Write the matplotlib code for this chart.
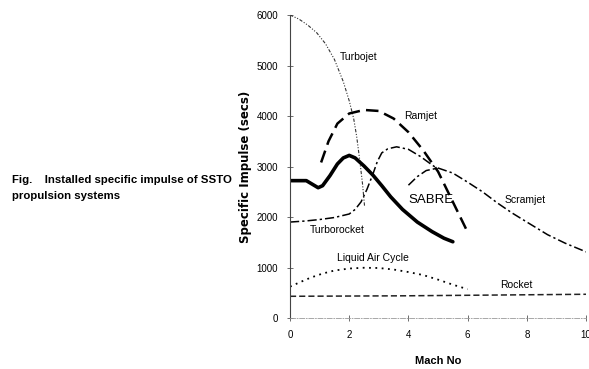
import matplotlib
matplotlib.use("Agg")
import matplotlib.pyplot as plt

# ---- data (Mach number vs specific impulse, secs) ----
turbojet_x = [0, 0.3, 0.6, 0.9, 1.2, 1.5, 1.8, 2.0, 2.15, 2.25, 2.35, 2.45, 2.52]
turbojet_y = [6000, 5920, 5800, 5650, 5430, 5120, 4680, 4300, 3950, 3600, 3150, 2650, 2200]

ramjet_x = [1.05, 1.3, 1.6, 2.0, 2.5, 3.0, 3.5, 4.0, 4.5, 5.0, 5.5, 6.0]
ramjet_y = [3080, 3500, 3850, 4050, 4120, 4100, 3950, 3680, 3320, 2900, 2300, 1700]

turborocket_x = [0, 0.5, 1.0, 1.5, 2.0, 2.2, 2.4, 2.6, 2.8, 2.95, 3.1, 3.3, 3.6, 4.0, 4.4, 4.8, 5.0]
turborocket_y = [1900, 1920, 1950, 1990, 2060, 2150, 2300, 2550, 2850, 3100, 3270, 3350, 3390, 3340, 3200, 3030, 2950]

scramjet_x = [4.0, 4.3, 4.6, 5.0, 5.5, 6.0, 6.5, 7.0, 7.5, 8.0, 8.7, 9.3, 10.0]
scramjet_y = [2630, 2800, 2920, 2970, 2870, 2690, 2500, 2280, 2080, 1900, 1650, 1480, 1310]

sabre_x = [0, 0.55, 0.75, 0.95, 1.1, 1.35, 1.6, 1.8, 2.0, 2.2, 2.5, 2.8, 3.1, 3.4, 3.8, 4.3, 4.8, 5.2, 5.5]
sabre_y = [2720, 2720, 2650, 2580, 2620, 2820, 3050, 3170, 3220, 3170, 3010, 2830, 2620, 2400, 2150, 1900, 1710, 1580, 1510]

lac_x = [0, 0.3, 0.7, 1.1, 1.5, 2.0, 2.5, 3.0, 3.5, 4.0, 4.5, 5.0, 5.5, 6.0]
lac_y = [620, 700, 800, 880, 940, 980, 995, 990, 960, 910, 850, 760, 660, 570]

rocket_x = [0, 2, 4, 6, 8, 10]
rocket_y = [430, 435, 440, 450, 460, 470]

x_ticks = [0, 2, 4, 6, 8, 10]
y_ticks = [0, 1000, 2000, 3000, 4000, 5000, 6000]

fam = ['Liberation Sans', 'DejaVu Sans']

fig = plt.figure(figsize=(5.89, 3.69), dpi=100)
ax = fig.add_axes([0.4924, 0.1382, 0.5026, 0.8211])

ax.plot(turbojet_x, turbojet_y, color='#333333', lw=0.8, linestyle=(0, (3, 1.5, 1, 1.5, 1, 1.5)))
ax.plot(ramjet_x, ramjet_y, color='black', lw=1.8, linestyle=(0, (5, 2.5)))
ax.plot(turborocket_x, turborocket_y, color='black', lw=1.1, linestyle=(0, (6, 2, 1.5, 2)))
ax.plot(scramjet_x, scramjet_y, color='black', lw=1.1, linestyle=(0, (6, 2, 1.5, 2)))
ax.plot(sabre_x, sabre_y, color='black', lw=2.6, solid_capstyle='round')
ax.plot(lac_x, lac_y, color='black', lw=1.3, linestyle=(0, (1, 2.5)))
ax.plot(rocket_x, rocket_y, color='#222222', lw=1.1, linestyle=(0, (4, 2)))

tfs = 7.5
ax.text(1.69, 5170, 'Turbojet', fontsize=tfs, family=fam, va='center')
ax.text(3.85, 4000, 'Ramjet', fontsize=tfs, family=fam, va='center')
ax.text(4.0, 2340, 'SABRE', fontsize=9.5, family=fam, va='center')
ax.text(7.26, 2340, 'Scramjet', fontsize=tfs, family=fam, va='center')
ax.text(0.68, 1740, 'Turborocket', fontsize=tfs, family=fam, va='center')
ax.text(1.59, 1190, 'Liquid Air Cycle', fontsize=tfs, family=fam, va='center')
ax.text(7.1, 650, 'Rocket', fontsize=tfs, family=fam, va='center')

ax.set_xlim(0, 10)
ax.set_ylim(0, 6000)
ax.set_xticks(x_ticks)
ax.set_yticks(y_ticks)
ax.set_xticklabels([str(v) for v in x_ticks], family=fam, fontsize=7)
ax.set_yticklabels([str(v) for v in y_ticks], family=fam, fontsize=7)
ax.tick_params(axis='both', direction='inout', length=5, width=0.6, color='#555555', pad=6)

for s in ['top', 'right']:
    ax.spines[s].set_visible(False)
ax.spines['left'].set_linewidth(0.8)
ax.spines['left'].set_color('#444444')
ax.spines['bottom'].set_linewidth(0.6)
ax.spines['bottom'].set_color('#999999')
ax.spines['bottom'].set_linestyle((0, (6, 2, 1, 2)))

ax.set_xlabel('Mach No', fontsize=8, fontweight='bold', family=fam, labelpad=12)
ax.set_ylabel('Specific Impulse (secs)', fontsize=8.5, fontweight='bold', family=['DejaVu Sans'], labelpad=3)

fig.text(0.02, 0.512, 'Fig.    Installed specific impulse of SSTO', fontsize=8.2,
         fontweight='bold', family=fam, va='center')
fig.text(0.02, 0.470, 'propulsion systems', fontsize=8.2,
         fontweight='bold', family=fam, va='center')

fig.savefig('out.png', dpi=100)
